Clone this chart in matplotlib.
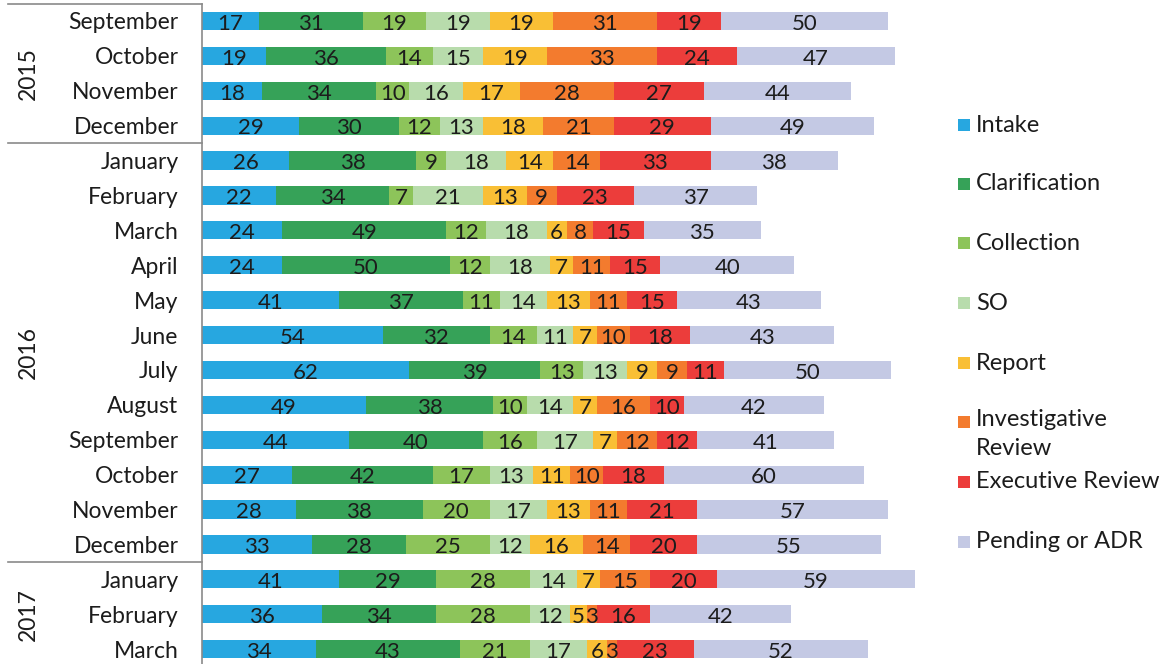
import matplotlib
matplotlib.use('Agg')
import matplotlib.pyplot as plt
import matplotlib.transforms as mtransforms
from matplotlib.patches import Rectangle
import numpy as np

plt.rcParams['font.family'] = ['Lato', 'DejaVu Sans']

# 月份和年份分组
months = ["September", "October", "November", "December",
          "January", "February", "March", "April", "May", "June", "July",
          "August", "September", "October", "November", "December",
          "January", "February", "March"]
years = ["2015", "2016", "2017"]
year_sizes = [4, 12, 3]

stages = ["Intake", "Clarification", "Collection", "SO", "Report",
          "Investigative\nReview", "Executive Review", "Pending or ADR"]
colors = ["#27A7E0", "#36A258", "#8DC45A", "#B8DCAC", "#F9BF35",
          "#F37B2E", "#EC3D3B", "#C4C9E4"]

intake = [17, 19, 18, 29, 26, 22, 24, 24, 41, 54, 62, 49, 44, 27, 28, 33, 41, 36, 34]
clarification = [31, 36, 34, 30, 38, 34, 49, 50, 37, 32, 39, 38, 40, 42, 38, 28, 29, 34, 43]
collection = [19, 14, 10, 12, 9, 7, 12, 12, 11, 14, 13, 10, 16, 17, 20, 25, 28, 28, 21]
so = [19, 15, 16, 13, 18, 21, 18, 18, 14, 11, 13, 14, 17, 13, 17, 12, 14, 12, 17]
report = [19, 19, 17, 18, 14, 13, 6, 7, 13, 7, 9, 7, 7, 11, 13, 16, 7, 5, 6]
investigative = [31, 33, 28, 21, 14, 9, 8, 11, 11, 10, 9, 16, 12, 10, 11, 14, 15, 3, 3]
executive = [19, 24, 27, 29, 33, 23, 15, 15, 15, 18, 11, 10, 12, 18, 21, 20, 20, 16, 23]
pending = [50, 47, 44, 49, 38, 37, 35, 40, 43, 43, 50, 42, 41, 60, 57, 55, 59, 42, 52]

series = [intake, clarification, collection, so, report, investigative, executive, pending]

W, H = 1170, 664
fig = plt.figure(figsize=(W / 100, H / 100), dpi=100)
ax = fig.add_axes([202 / W, -2.6 / H, 728 / W, 663.1 / H])

y = np.arange(len(months))
left = np.zeros(len(months))
for vals, c in zip(series, colors):
    vals = np.array(vals)
    ax.barh(y, vals, left=left, height=0.52, color=c, linewidth=0)
    for yi, l, v in zip(y, left, vals):
        ax.text(l + v / 2, yi + 0.08, str(v), ha='center', va='center',
                fontsize=16, color='#1c1c1c')
    left += vals

ax.set_xlim(0, 217.6)
ax.set_ylim(len(months) - 0.5, -0.5)
ax.set_yticks(y)
ax.set_yticklabels(months, fontsize=16.5, color='#1c1c1c')
ax.tick_params(axis='y', length=0, pad=17)
ax.set_xticks([])
for s in ['top', 'right', 'bottom']:
    ax.spines[s].set_visible(False)
ax.spines['left'].set_color('#8a8a8a')
ax.spines['left'].set_linewidth(1.2)

# 年份分隔线和年份标签
trans = mtransforms.blended_transform_factory(ax.transAxes, ax.transData)
x0 = -194 / 728
start = -0.5
ax.plot([x0, 0], [start, start], color='#8a8a8a', lw=1.2, transform=trans, clip_on=False)
for yr, n in zip(years, year_sizes):
    end = start + n
    if end < len(months) - 0.5:
        ax.plot([x0, 0], [end, end], color='#8a8a8a', lw=1.2, transform=trans, clip_on=False)
    ax.text(-174 / 728, (start + end) / 2, yr, rotation=90, ha='center', va='center',
            fontsize=16.5, color='#1c1c1c', transform=trans)
    start = end

# 图例
legend_y = [125, 184, 243, 303, 363, 422, 482, 542]
for lab, c, ly in zip(stages, colors, legend_y):
    fig.patches.append(Rectangle((958 / W, 1 - (ly + 6) / H), 12 / W, 12 / H,
                                 transform=fig.transFigure, color=c, lw=0))
    if '\n' in lab:
        fig.text(976 / W, 1 - (ly - 13) / H, lab, ha='left', va='top',
                 fontsize=17, color='#1c1c1c', linespacing=1.45)
    else:
        fig.text(976 / W, 1 - ly / H, lab, ha='left', va='center',
                 fontsize=17, color='#1c1c1c')

fig.savefig('out.png', dpi=100)
